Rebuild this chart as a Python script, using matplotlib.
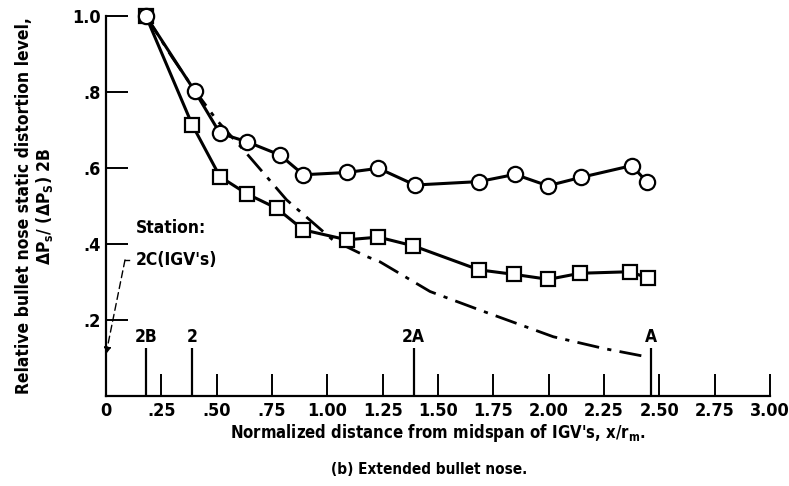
import matplotlib
matplotlib.use('Agg')
import matplotlib.pyplot as plt
from matplotlib import font_manager

# pick a narrow bold face if one is there
names = {f.name for f in font_manager.fontManager.ttflist}
FONT = 'Liberation Sans Narrow' if 'Liberation Sans Narrow' in names else 'DejaVu Sans'
plt.rcParams['font.family'] = [FONT, 'DejaVu Sans']
plt.rcParams['font.weight'] = 'bold'
plt.rcParams['font.stretch'] = 'condensed'
plt.rcParams['axes.labelweight'] = 'bold'
plt.rcParams['mathtext.fontset'] = 'custom'
plt.rcParams['mathtext.rm'] = FONT + ':bold'
plt.rcParams['mathtext.it'] = FONT + ':bold'
plt.rcParams['mathtext.bf'] = FONT + ':bold'
plt.rcParams['mathtext.default'] = 'rm'

# circles
x_circ = [0.18, 0.40, 0.515, 0.636, 0.786, 0.892, 1.088, 1.231, 1.396, 1.685,
          1.848, 1.996, 2.145, 2.375, 2.446]
y_circ = [1.0, 0.803, 0.691, 0.669, 0.634, 0.582, 0.588, 0.599, 0.555, 0.564,
          0.583, 0.553, 0.575, 0.606, 0.562]
# squares
x_sq = [0.18, 0.39, 0.515, 0.636, 0.771, 0.892, 1.088, 1.231, 1.389, 1.685,
        1.844, 1.999, 2.142, 2.368, 2.450]
y_sq = [1.0, 0.713, 0.577, 0.532, 0.494, 0.437, 0.411, 0.418, 0.395, 0.332,
        0.320, 0.307, 0.323, 0.327, 0.310]
# dash-dot curve
x_curve = [0.18, 0.30, 0.40, 0.50, 0.628, 0.816, 1.026, 1.178, 1.238, 1.464,
           1.69, 2.021, 2.25, 2.428]
y_curve = [1.0, 0.89, 0.805, 0.726, 0.643, 0.516, 0.41, 0.367, 0.353, 0.275,
           0.226, 0.156, 0.125, 0.105]

stations = [0.18, 0.39, 1.39, 2.46]
station_names = ['2B', '2', '2A', 'A']

x_ticks = [0, 0.25, 0.5, 0.75, 1.0, 1.25, 1.5, 1.75, 2.0, 2.25, 2.5, 2.75, 3.0]
x_labels = ['0', '.25', '.50', '.75', '1.00', '1.25', '1.50', '1.75', '2.00',
            '2.25', '2.50', '2.75', '3.00']
y_ticks = [0.2, 0.4, 0.6, 0.8, 1.0]
y_labels = ['.2', '.4', '.6', '.8', '1.0']

fig = plt.figure(figsize=(7.89, 4.86), dpi=100)
ax = fig.add_axes([0.1343, 0.185, 0.8417, 0.7825])
ax.set_xlim(0, 3.0)
ax.set_ylim(0, 1.0)

lw = 2.2
ax.plot(x_curve, y_curve, color='black', lw=2.0, dashes=(8, 3, 1.5, 3),
        clip_on=False, zorder=2)
ax.plot(x_sq, y_sq, color='black', lw=lw, marker='s', ms=10, mfc='white',
        mec='black', mew=1.6, clip_on=False, zorder=3)
ax.plot(x_circ, y_circ, color='black', lw=lw, marker='o', ms=11, mfc='white',
        mec='black', mew=1.6, clip_on=False, zorder=4)

# station marks
ax.vlines(stations, 0, 0.126, color='black', lw=1.6)
for s, n in zip(stations, station_names):
    ax.text(s, 0.132, n, ha='center', va='bottom', fontsize=12.5)

ax.text(0.136, 0.442, 'Station:', ha='left', va='center', fontsize=12.5)
ax.text(0.136, 0.358, "2C(IGV's)", ha='left', va='center', fontsize=12.5)
ax.plot([0.105, 0.086], [0.358, 0.358], color='black', lw=1.0)
ax.annotate('', xy=(0.0, 0.11), xytext=(0.086, 0.358),
            arrowprops=dict(arrowstyle='-|>', color='black', lw=1.0,
                            linestyle=(0, (5, 3)), shrinkA=0, shrinkB=0,
                            mutation_scale=10))

for side in ['top', 'right']:
    ax.spines[side].set_visible(False)
ax.spines['left'].set_bounds(0, 1.0)
ax.spines['left'].set_linewidth(1.6)
ax.spines['bottom'].set_linewidth(1.6)

ax.set_xticks(x_ticks)
ax.set_xticklabels(x_labels, fontsize=13)
ax.set_yticks(y_ticks)
ax.set_yticklabels(y_labels, fontsize=13)
ax.tick_params(axis='both', direction='in', length=16, width=1.4, pad=4)

ax.set_xlabel("Normalized distance from midspan of IGV's, x/r$_{m}$.",
              fontsize=12, labelpad=2)
ax.set_ylabel('Relative bullet nose static distortion level,\n'
              r'$\Delta$P$_s$/ ($\Delta$P$_S$) 2B', fontsize=12.5,
              linespacing=1.1, labelpad=12)

fig.text(0.544, 0.033, '(b) Extended bullet nose.', ha='center', va='center',
         fontsize=11)

fig.savefig('out.png', dpi=100)
